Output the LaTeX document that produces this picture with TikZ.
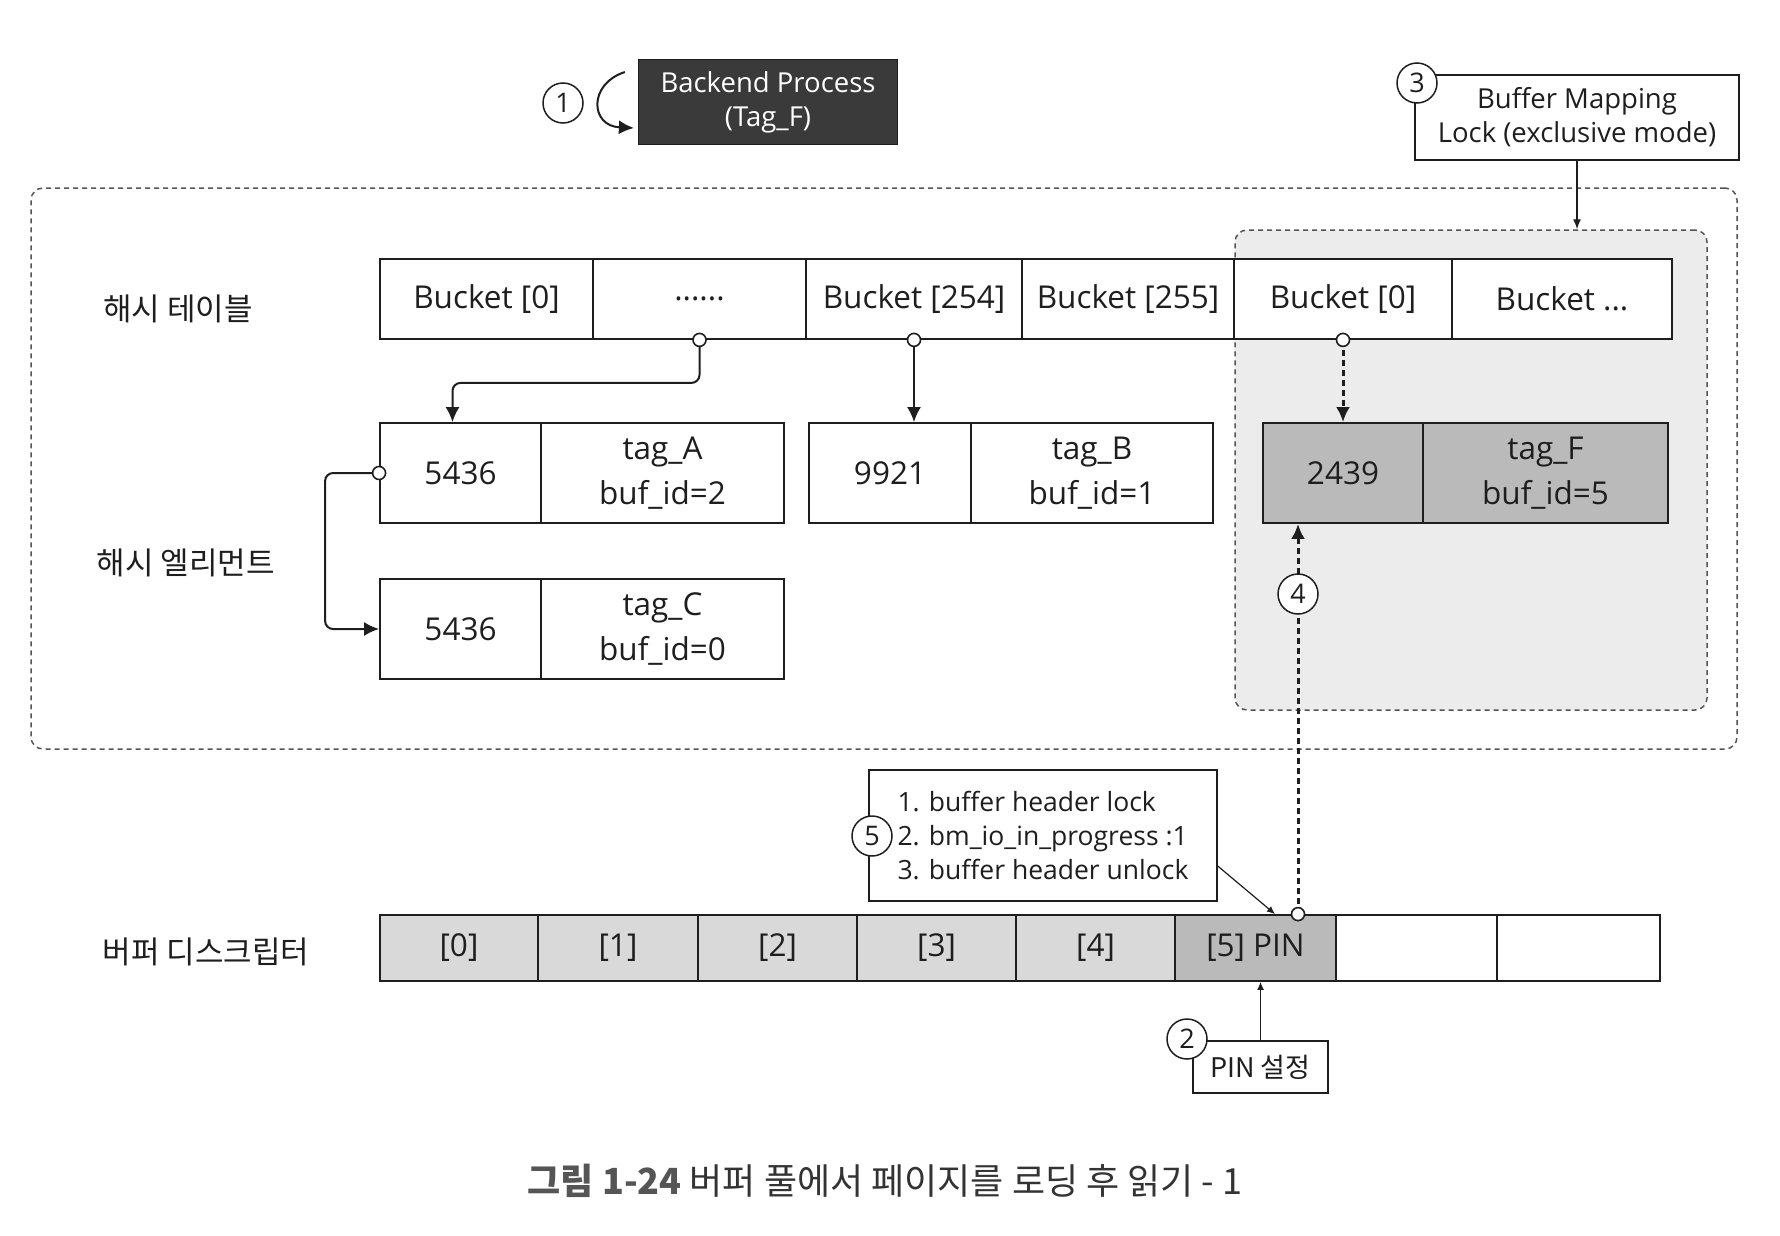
\documentclass[tikz,border=0pt]{standalone}
\usepackage{fontspec}
\setmainfont{Open Sans}
\newfontfamily\kr{Noto Sans CJK KR}
\usetikzlibrary{arrows.meta,calc}
\definecolor{ink}{HTML}{1E1E1E}
\definecolor{shadebg}{HTML}{ECECEC}
\definecolor{lightcell}{HTML}{D9D9D9}
\definecolor{darkcell}{HTML}{BABABA}
\definecolor{procfill}{HTML}{3A3A3A}
\definecolor{dashcol}{HTML}{555555}
\definecolor{capbold}{HTML}{555555}
\definecolor{captext}{HTML}{333333}
\tikzset{
  cell/.style={draw=ink, line width=1.8pt, inner sep=0pt, align=center, text=ink,
    font=\fontsize{31.5}{45}\selectfont},
  bucket/.style={cell, minimum height=80pt},
  elem/.style={cell, minimum height=100pt},
  bufcell/.style={cell, minimum height=66pt, fill=lightcell},
  dot/.style={circle, draw=ink, fill=white, line width=1.6pt, minimum size=13pt, inner sep=0pt},
  numc/.style={circle, draw=ink, fill=white, line width=1.5pt, minimum size=40pt, inner sep=0pt,
    text=ink, font=\fontsize{27}{27}\selectfont},
  conn/.style={draw=ink, line width=2pt, -{Latex[length=15pt,width=14pt]}},
  dashthick/.style={dash pattern=on 6pt off 4pt, line width=3pt},
  thinarrow/.style={draw=ink, line width=1.2pt, -{Latex[length=8pt,width=7pt]}},
  midarrow/.style={draw=ink, line width=1.4pt, -{Latex[length=10pt,width=8pt]}},
  infobox/.style={draw=ink, line width=1.4pt, fill=white, inner sep=0pt, align=center, text=ink,
    font=\fontsize{27.5}{34}\selectfont},
  krlabel/.style={text=ink, font=\kr\fontsize{31}{36}\selectfont, inner sep=0pt},
  dashregion/.style={draw=dashcol, line width=1.5pt, dash pattern=on 5pt off 4pt, rounded corners=12pt, inner sep=0pt}
}
\begin{document}
\begin{tikzpicture}[x=1pt,y=-1pt]
\useasboundingbox[fill=white] (0,0) rectangle (1780,1236);

% regions
\node[dashregion, minimum width=1706pt, minimum height=561pt] (outer) at (884,468.5) {};
\node[dashregion, fill=shadebg, minimum width=472pt, minimum height=480pt] (hl) at (1471,470) {};

% backend process
\node[draw=ink, line width=1.2pt, fill=procfill, text=white, align=center, inner sep=0pt,
  minimum width=259pt, minimum height=85pt, font=\fontsize{27.5}{34}\selectfont] (bp) at (768,102)
  {Backend Process\\(Tag\_F)};
\node[numc] (n1) at (563,103) {1};
\coordinate (cs) at ($(bp.west)+(-13,-30)$);
\coordinate (ce) at ($(bp.west)+(-4,26)$);
\draw[conn] (cs) .. controls (588,84) and (590,126) .. (ce);

% buffer mapping lock
\node[infobox, minimum width=324pt, minimum height=85pt] (bm) at (1577,117.5)
  {Buffer Mapping\\Lock (exclusive mode)};
\node[numc] (n3) at (1417,83) {3};
\draw[midarrow] (bm.south) -- (bm.south |- hl.north);

% labels
\node[krlabel] (lt) at (178,309) {해시 테이블};
\node[krlabel] (le) at (186,563) {해시 엘리먼트};
\node[krlabel] (lb) at (206,952) {버퍼 디스크립터};

% buckets
\node[bucket, minimum width=213pt] (b0) at (486.5,299) {Bucket [0]};
\node[bucket, minimum width=213pt] (b1) at (699.5,299) {......};
\node[bucket, minimum width=216pt] (b2) at (914,299) {Bucket [254]};
\node[bucket, minimum width=212pt] (b3) at (1128,299) {Bucket [255]};
\node[bucket, minimum width=218pt, fill=white] (b4) at (1343,299) {Bucket [0]};
\node[bucket, minimum width=220pt, fill=white] (b5) at (1562,299) {Bucket ...};

% hash elements
\node[elem, minimum width=161pt] (eA1) at (460.5,473) {5436};
\node[elem, minimum width=243pt] (eA2) at (662.5,473) {tag\_A\\buf\_id=2};
\node[elem, minimum width=162pt] (eB1) at (890,473) {9921};
\node[elem, minimum width=242pt] (eB2) at (1092,473) {tag\_B\\buf\_id=1};
\node[elem, minimum width=160pt, fill=darkcell] (eF1) at (1343,473) {2439};
\node[elem, minimum width=245pt, fill=darkcell] (eF2) at (1545.5,473) {tag\_F\\buf\_id=5};
\node[elem, minimum width=161pt] (eC1) at (460.5,629) {5436};
\node[elem, minimum width=243pt] (eC2) at (662.5,629) {tag\_C\\buf\_id=0};

% connectors in hash area
\draw[conn, rounded corners=8pt] (b1.south) -- ++(0,43) -| ([xshift=-8pt]eA1.north);
\draw[conn] (b2.south) -- (b2.south |- eB1.north);
\draw[conn, dashthick] (b4.south) -- (b4.south |- eF1.north);
\draw[conn, rounded corners=8pt] (eA1.west) -- ++(-54,0) |- (eC1.west);
\node[dot] at (b1.south) {};
\node[dot] at (b2.south) {};
\node[dot] at (b4.south) {};
\node[dot] at (eA1.west) {};

% buffer descriptors
\node[bufcell, minimum width=158pt] (c0) at (459,948) {[0]};
\node[bufcell, minimum width=160pt] (c1) at (618,948) {[1]};
\node[bufcell, minimum width=159pt] (c2) at (777.5,948) {[2]};
\node[bufcell, minimum width=159pt] (c3) at (936.5,948) {[3]};
\node[bufcell, minimum width=159pt] (c4) at (1095.5,948) {[4]};
\node[bufcell, minimum width=161pt, fill=darkcell] (c5) at (1255.5,948) {[5] PIN};
\node[cell, minimum height=66pt, minimum width=161pt] (c6) at (1416.5,948) {};
\node[cell, minimum height=66pt, minimum width=163pt] (c7) at (1578.5,948) {};

% arrow 4
\coordinate (p5) at ($(c5.north)+(42.5,0)$);
\draw[conn, dashthick] (p5) -- (p5 |- eF1.south);
\node[dot] at (p5) {};
\node[numc] (n4) at (1298,594) {4};

% note box 5
\node[infobox, minimum width=348pt, minimum height=131pt, align=left, font=\fontsize{26.5}{34}\selectfont] (note) at (1043,835.5)
  {1. buffer header lock\\2. bm\_io\_in\_progress :1\\3. buffer header unlock};
\node[numc] (n5) at (872,836) {5};
\draw[thinarrow] ($(note.east)+(0,30.5)$) -- ($(c5.north)+(19.5,0)$);

% PIN box
\node[draw=ink, line width=1.4pt, fill=white, inner sep=0pt, minimum width=135pt, minimum height=52pt,
  text=ink, font=\kr\fontsize{27}{30}\selectfont] (pin) at (1260.5,1067) {PIN 설정};
\draw[thinarrow] (pin.north) -- (pin.north |- c5.south);
\node[numc] (n2) at (1187,1039) {2};

% caption
\node[inner sep=0pt, font=\kr\fontsize{36}{42}\selectfont, text=captext] (cap) at (885,1181)
  {\textcolor{capbold}{\bfseries 그림 1-24} 버퍼 풀에서 페이지를 로딩 후 읽기 - 1};
\end{tikzpicture}
\end{document}
